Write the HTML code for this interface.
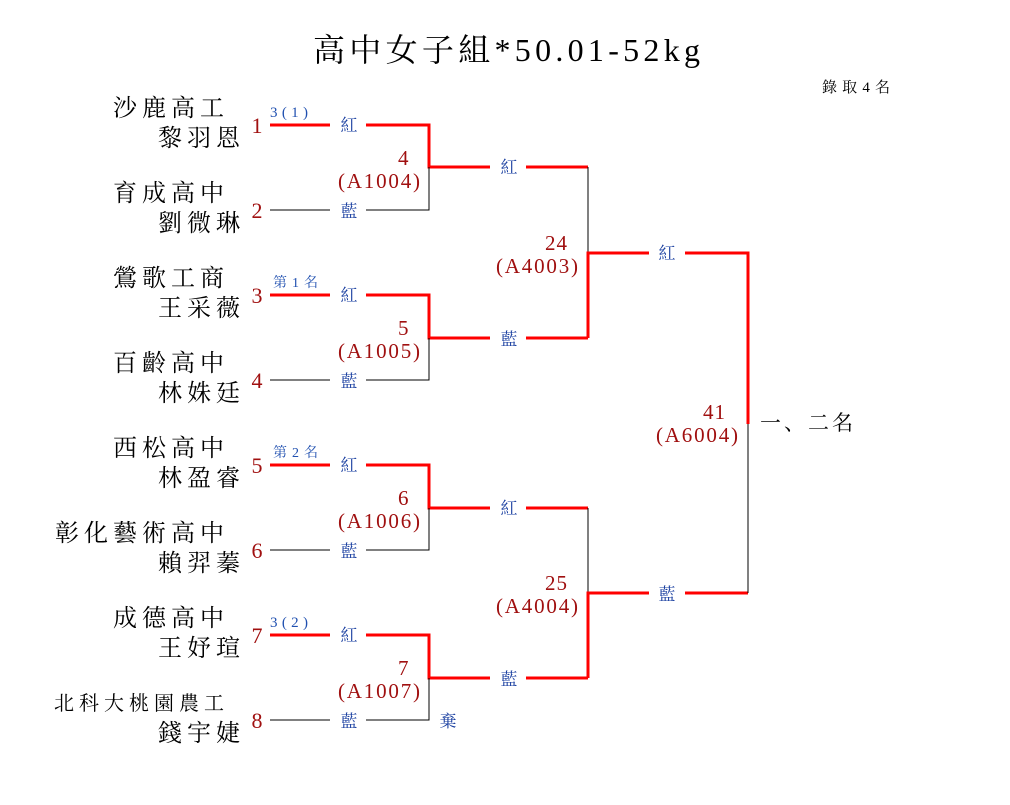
<!DOCTYPE html>
<html><head><meta charset="utf-8"><style>
html,body{margin:0;padding:0;background:#fff;}
svg{display:block;font-family:"Liberation Serif","Noto Serif CJK SC",serif;}
.nm{font-size:24px;letter-spacing:5px;fill:#000;text-anchor:end;}
.sd{font-size:22px;fill:#a01010;text-anchor:middle;}
.sm{font-size:15px;fill:#2050b0;}
.lb{font-size:17px;fill:#1a3fa0;text-anchor:middle;}
.mn{font-size:21px;fill:#a01010;}
.r{stroke:#ff0000;stroke-width:3;fill:none;}
.k{stroke:#000;stroke-width:1;fill:none;}
</style></head><body>
<svg width="1010" height="805" viewBox="0 0 1010 805">
<text x="313" y="61" font-size="32" textLength="387" lengthAdjust="spacing">高中女子組*50.01-52kg</text>
<text x="822" y="92" font-size="15" textLength="68" lengthAdjust="spacing">錄取4名</text>

<!-- names -->
<text class="nm" x="229" y="116">沙鹿高工</text><text class="nm" x="245" y="146">黎羽恩</text>
<text class="nm" x="229" y="201">育成高中</text><text class="nm" x="245" y="231">劉微琳</text>
<text class="nm" x="229" y="286">鶯歌工商</text><text class="nm" x="245" y="316">王采薇</text>
<text class="nm" x="229" y="371">百齡高中</text><text class="nm" x="245" y="401">林姝廷</text>
<text class="nm" x="229" y="456">西松高中</text><text class="nm" x="245" y="486">林盈睿</text>
<text class="nm" x="229" y="541">彰化藝術高中</text><text class="nm" x="245" y="571">賴羿蓁</text>
<text class="nm" x="229" y="626">成德高中</text><text class="nm" x="245" y="656">王妤瑄</text>
<text class="nm" x="229" y="710" style="font-size:20px;letter-spacing:5px">北科大桃園農工</text><text class="nm" x="245" y="741">錢宇婕</text>

<!-- seeds -->
<text class="sd" x="257" y="133">1</text>
<text class="sd" x="257" y="218">2</text>
<text class="sd" x="257" y="303">3</text>
<text class="sd" x="257" y="388">4</text>
<text class="sd" x="257" y="473">5</text>
<text class="sd" x="257" y="558">6</text>
<text class="sd" x="257" y="643">7</text>
<text class="sd" x="257" y="728">8</text>

<text class="sm" x="270" y="117" textLength="38">3(1)</text>
<text class="sm" x="273" y="287" style="font-size:14px" textLength="45">第1名</text>
<text class="sm" x="273" y="457" style="font-size:14px" textLength="45">第2名</text>
<text class="sm" x="270" y="627" textLength="38">3(2)</text>

<!-- round 1 lines -->
<path class="r" d="M270 125H330M366 125H429V167H490M526 167H588"/>
<path class="k" d="M270 210H330M366 210H429V167"/>
<path class="r" d="M270 295H330M366 295H429V338H490M526 338H588"/>
<path class="k" d="M270 380H330M366 380H429V338"/>
<path class="r" d="M270 465H330M366 465H429V508H490M526 508H588"/>
<path class="k" d="M270 550H330M366 550H429V508"/>
<path class="r" d="M270 635H330M366 635H429V678H490M526 678H588"/>
<path class="k" d="M270 720H330M366 720H429V678"/>

<!-- round 2 -->
<path class="k" d="M588 167V253"/>
<path class="r" d="M588 338V253H649M685 253H748V424"/>
<path class="k" d="M588 508V593"/>
<path class="r" d="M588 678V593H649M685 593H748"/>
<path class="k" d="M748 424V593"/>

<!-- labels -->
<text class="lb" x="349" y="131">紅</text><text class="lb" x="349" y="217">藍</text>
<text class="lb" x="349" y="301">紅</text><text class="lb" x="349" y="387">藍</text>
<text class="lb" x="349" y="471">紅</text><text class="lb" x="349" y="557">藍</text>
<text class="lb" x="349" y="641">紅</text><text class="lb" x="349" y="727">藍</text>
<text class="lb" x="509" y="173">紅</text><text class="lb" x="509" y="345">藍</text>
<text class="lb" x="509" y="514">紅</text><text class="lb" x="509" y="685">藍</text>
<text class="lb" x="667" y="259">紅</text><text class="lb" x="667" y="600">藍</text>
<text class="lb" x="448" y="727">棄</text>

<!-- match numbers -->
<text class="mn" x="398" y="165">4</text><text class="mn" x="338" y="188" textLength="82">(A1004)</text>
<text class="mn" x="398" y="335">5</text><text class="mn" x="338" y="358" textLength="82">(A1005)</text>
<text class="mn" x="398" y="505">6</text><text class="mn" x="338" y="528" textLength="82">(A1006)</text>
<text class="mn" x="398" y="675">7</text><text class="mn" x="338" y="698" textLength="82">(A1007)</text>
<text class="mn" x="545" y="250" textLength="22">24</text><text class="mn" x="496" y="273" textLength="82">(A4003)</text>
<text class="mn" x="545" y="590" textLength="22">25</text><text class="mn" x="496" y="613" textLength="82">(A4004)</text>
<text class="mn" x="703" y="419" textLength="22">41</text><text class="mn" x="656" y="442" textLength="82">(A6004)</text>

<text x="760" y="430" font-size="21" letter-spacing="3">一、二名</text>
</svg>
</body></html>
